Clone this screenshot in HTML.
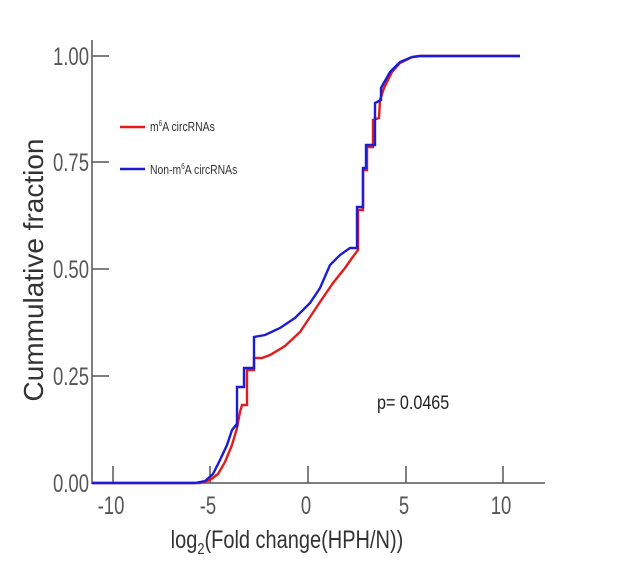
<!DOCTYPE html>
<html><head><meta charset="utf-8"><style>body{margin:0;background:#fff}</style></head><body>
<svg width="637" height="571" viewBox="0 0 637 571" xmlns="http://www.w3.org/2000/svg" font-family="Liberation Sans, sans-serif">
<g stroke="#555" stroke-width="1.5" fill="none">
<line x1="92" y1="40" x2="92" y2="484"/>
<line x1="92" y1="483" x2="545" y2="483"/>
<line x1="92" y1="56" x2="109" y2="56"/>
<line x1="92" y1="162" x2="109" y2="162"/>
<line x1="92" y1="269" x2="109" y2="269"/>
<line x1="92" y1="376" x2="109" y2="376"/>
<line x1="113" y1="466" x2="113" y2="483"/>
<line x1="210" y1="466" x2="210" y2="483"/>
<line x1="308" y1="466" x2="308" y2="483"/>
<line x1="406" y1="466" x2="406" y2="483"/>
<line x1="503" y1="466" x2="503" y2="483"/>
</g>
<g fill="#555" font-size="25" text-anchor="end">
<text x="89" y="65" transform="translate(89 0) scale(0.74 1) translate(-89 0)">1.00</text>
<text x="89" y="171" transform="translate(89 0) scale(0.74 1) translate(-89 0)">0.75</text>
<text x="89" y="278" transform="translate(89 0) scale(0.74 1) translate(-89 0)">0.50</text>
<text x="89" y="385" transform="translate(89 0) scale(0.74 1) translate(-89 0)">0.25</text>
<text x="89" y="492" transform="translate(89 0) scale(0.74 1) translate(-89 0)">0.00</text>
</g>
<g fill="#555" font-size="25" text-anchor="middle">
<text x="111" y="514" transform="translate(111 0) scale(0.74 1) translate(-111 0)">-10</text>
<text x="208" y="514" transform="translate(208 0) scale(0.74 1) translate(-208 0)">-5</text>
<text x="306" y="514" transform="translate(306 0) scale(0.74 1) translate(-306 0)">0</text>
<text x="404" y="514" transform="translate(404 0) scale(0.74 1) translate(-404 0)">5</text>
<text x="501" y="514" transform="translate(501 0) scale(0.74 1) translate(-501 0)">10</text>
</g>
<text x="0" y="0" font-size="28" fill="#333" text-anchor="middle" transform="translate(43 270) rotate(-90)">Cummulative fraction</text>
<text x="287" y="548" font-size="25" fill="#333" text-anchor="middle" transform="translate(287 0) scale(0.8 1) translate(-287 0)">log<tspan font-size="16" dy="6">2</tspan><tspan dy="-6">(Fold change(HPH/N))</tspan></text>
<text x="377" y="409" font-size="19" fill="#222" transform="translate(377 0) scale(0.85 1) translate(-377 0)">p= 0.0465</text>
<line x1="120" y1="127" x2="145" y2="127" stroke="#e31b1b" stroke-width="2.5"/>
<line x1="120" y1="169" x2="145" y2="169" stroke="#1c1cd6" stroke-width="2.5"/>
<text x="150" y="131" font-size="13" fill="#333" transform="translate(150 0) scale(0.8 1) translate(-150 0)">m<tspan font-size="8" dy="-5">6</tspan><tspan dy="5">A circRNAs</tspan></text>
<text x="150" y="174" font-size="13" fill="#333" transform="translate(150 0) scale(0.8 1) translate(-150 0)">Non-m<tspan font-size="8" dy="-5">6</tspan><tspan dy="5">A circRNAs</tspan></text>
<polyline fill="none" stroke="#e31b1b" stroke-width="2.4" points="92,483 200,483 210,480 218,474 225,462 232,445 237,428 240,412 242,405 247,405 247,370 254,370 254,358 262,358 270,355 285,346 300,332 310,317 320,302 333,283 345,268 352,258 358,250 358,210 363,210 363,170 367,170 367,147 373,147 373,120 379,118 380,100 384,88 392,72 400,63 412,57 420,56 520,56"/>
<polyline fill="none" stroke="#1c1cd6" stroke-width="2.4" points="92,483 195,483 205,481 213,474 220,460 227,445 232,430 236,425 237,427 237,387 244,387 244,368 254,368 254,337 265,335 280,328 295,318 310,303 320,288 330,265 340,255 350,248 357,248 357,207 363,207 363,168 366,168 366,145 375,145 375,103 381,100 381,88 390,72 400,62 412,57 420,56 520,56"/>
</svg>
</body></html>
